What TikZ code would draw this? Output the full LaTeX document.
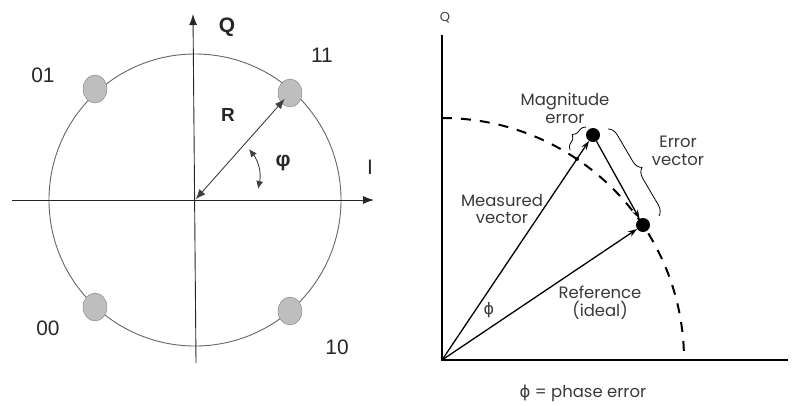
\documentclass[tikz,border=0pt]{standalone}
\usepackage{fontspec}
\setmainfont{Liberation Sans}
\newfontfamily\geofont{Poppins}
\newfontfamily\symfont{DejaVu Sans}
\usepackage{xcolor}
\usepackage{tikz}
\usetikzlibrary{arrows.meta,positioning,calc,shapes.geometric,decorations.pathreplacing}

\definecolor{txtgray}{HTML}{3A3A3A}
\definecolor{ptgray}{HTML}{BEBEBE}

\begin{document}
\begin{tikzpicture}[x=1bp, y=-1bp,
  axis/.style={draw=black!85, line width=0.9bp, -{Latex[length=11bp,width=8bp]}},
  ring/.style={draw=black!60, line width=0.9bp},
  symbol/.style={ellipse, draw=black!50, fill=ptgray, minimum width=24bp, minimum height=28bp, inner sep=0pt},
  lbl/.style={font=\fontsize{21}{23}\selectfont, text=black!85},
  radius arrow/.style={draw=black!75, line width=0.9bp, {Latex[length=10bp,width=8bp]}-{Latex[length=10bp,width=8bp]}},
  heavy/.style={draw=black, line width=2.4bp},
  dot/.style={circle, fill=black, minimum size=14bp, inner sep=0pt},
  vec/.style={line width=1.3bp, -{Stealth[length=9bp,width=6bp]}},
  note/.style={font=\geofont\fontsize{16.5}{18}\selectfont, text=txtgray, align=center},
  brace/.style={decorate, decoration={brace, amplitude=7bp}, line width=0.8bp}
]
\useasboundingbox (0,0) rectangle (797,405);

% constellation
\coordinate (O1) at (195,200);
\coordinate (Ileft) at (12,200);
\coordinate (Iright) at (374,200);
\coordinate (Qbot) at (196,363);
\coordinate (Qtop1) at (193,14);
\draw[ring] (O1) circle[radius=146];
\draw[axis] (Ileft) -- (Iright);
\draw[axis] (Qbot) -- (Qtop1);
\foreach \n/\x/\y in {s01/95/89, s11/290/93, s00/95/307, s10/290/311}
  \node[symbol] (\n) at (\x,\y) {};
\node[lbl] (l01) at (43,75) {01};
\node[lbl] (l11) at (322,55) {11};
\node[lbl] (l00) at (48,328) {00};
\node[lbl] (l10) at (337,347) {10};
\node[lbl, font=\bfseries\fontsize{21}{23}\selectfont] (lQ) at (227,27) {Q};
\node[lbl] (lI) at (370,167) {I};
\node[lbl, font=\bfseries\fontsize{19}{21}\selectfont] (lR) at (228,115) {R};
\node[lbl, font=\bfseries\fontsize{21}{23}\selectfont] (lphi) at (283,163) {φ};
\draw[radius arrow, shorten <=1bp, shorten >=8bp] (O1) -- (s11.center);
\coordinate (phA) at (249,149);
\coordinate (phB) at (258,189);
\draw[radius arrow, {Latex[length=8bp,width=7bp]}-{Latex[length=8bp,width=7bp]}] (phA) to[bend left=25] (phB);

% error vector
\coordinate (O2) at (442,360);
\coordinate (Qtop2) at (442,35);
\coordinate (Iend) at (788,360);
\draw[heavy] (Qtop2) -- (O2) -- (Iend);
\draw[line width=2bp, dash pattern=on 10bp off 9bp] (O2) ++(0,-242) arc[start angle=-90, end angle=0, radius=242];
\node[dot] (meas) at (593,135) {};
\node[dot] (ref) at (643,225) {};
\draw[vec] (O2) -- (meas);
\draw[vec] (O2) -- (ref);
\draw[vec] (meas) -- (ref);
\fill (577,159) circle[radius=2];
\coordinate (mA) at (570,150);
\coordinate (mB) at (586,127);
\draw[brace] (mA) -- (mB);
\coordinate (eA) at (608,129);
\coordinate (eB) at (659,216);
\draw[brace, decoration={amplitude=10bp}] (eA) -- (eB);
\node[note, font=\geofont\fontsize{13}{15}\selectfont] (rQ) at (445,18) {Q};
\node[note] (mag) at (565,108) {Magnitude\\error};
\node[note] (errv) at (678,151) {Error\\vector};
\node[note] (measv) at (502,209) {Measured\\vector};
\node[note] (refv) at (600,303) {Reference\\(ideal)};
\node[note, font=\symfont\fontsize{16}{18}\selectfont] (phi) at (489,310) {ϕ};
\node[note] (cap) at (583,393) {{\symfont ϕ} = phase error};
\end{tikzpicture}
\end{document}
